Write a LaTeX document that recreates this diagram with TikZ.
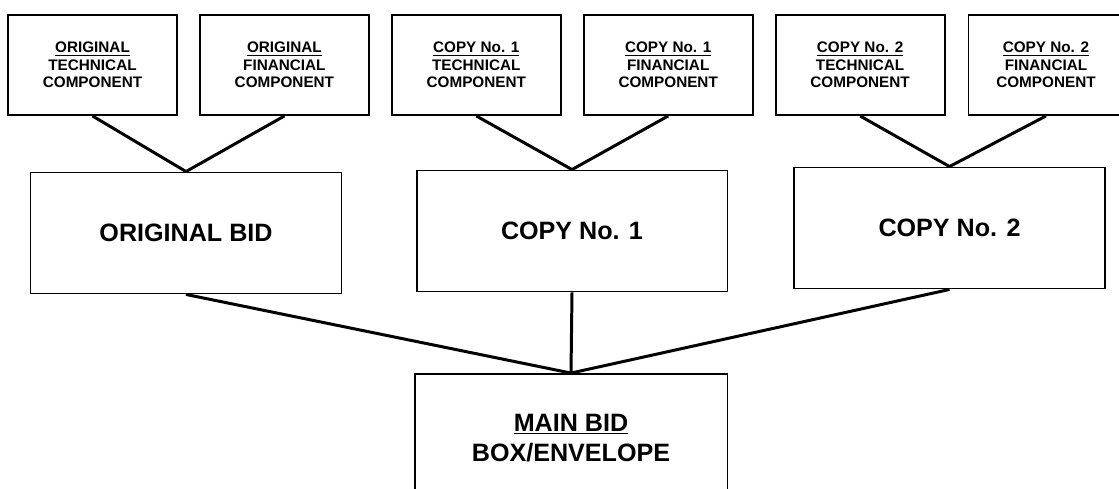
\documentclass[tikz,border=0pt]{standalone}
\usepackage{fontspec}
\setmainfont{Liberation Sans}
\usetikzlibrary{positioning}

\begin{document}
\begin{tikzpicture}[x=0.02cm, y=-0.02cm,
  comp/.style = {rectangle, draw, line width=1.1pt, minimum width=3.38cm, minimum height=2.0cm,
                 align=center, font=\fontsize{8.7}{10}\selectfont\bfseries},
  bid/.style = {rectangle, draw, line width=1.1pt, minimum width=6.22cm, minimum height=2.42cm,
                align=center, font=\fontsize{14.3}{17.5}\selectfont\bfseries},
  link/.style = {line width=1.7pt, line join=round},
]
  \useasboundingbox (0,0) rectangle (1119,488);
  \clip (0,0) rectangle (1119,488);

  % Top row: the six components
  \node[comp] (OrigTech) at (92.5,65) {\underline{ORIGINAL}\\TECHNICAL\\COMPONENT};
  \node[comp, right=0.42cm of OrigTech]  (OrigFin)  {\underline{ORIGINAL}\\FINANCIAL\\COMPONENT};
  \node[comp, right=0.42cm of OrigFin]   (CopyATech) {\underline{COPY No. 1}\\TECHNICAL\\COMPONENT};
  \node[comp, right=0.42cm of CopyATech] (CopyAFin)  {\underline{COPY No. 1}\\FINANCIAL\\COMPONENT};
  \node[comp, right=0.42cm of CopyAFin]  (CopyBTech) {\underline{COPY No. 2}\\TECHNICAL\\COMPONENT};
  \node[comp, minimum width=3.1cm, right=0.44cm of CopyBTech] (CopyBFin) {\underline{COPY No. 2}\\FINANCIAL\\COMPONENT};

  % Middle row: the three bids
  \node[bid] (OrigBid) at (186,233)   {ORIGINAL BID};
  \node[bid] (CopyA)   at (572,231)   {COPY No. 1};
  \node[bid] (CopyB)   at (949.5,228) {COPY No. 2};

  % Bottom: the main box
  \node[bid, minimum width=6.26cm, minimum height=2.56cm] (MainBox) at (571,438) {\underline{MAIN BID}\\BOX/ENVELOPE};

  % Components -> bids
  \draw[link] (OrigTech.south)  -- (OrigBid.north) -- (OrigFin.south);
  \draw[link] (CopyATech.south) -- (CopyA.north)   -- (CopyAFin.south);
  \draw[link] (CopyBTech.south) -- (CopyB.north)   -- (CopyBFin.south);

  % Bids -> main box
  \draw[link] (OrigBid.south) -- (MainBox.north);
  \draw[link] (CopyA.south)   -- (MainBox.north);
  \draw[link] (CopyB.south)   -- (MainBox.north);

\end{tikzpicture}
\end{document}
